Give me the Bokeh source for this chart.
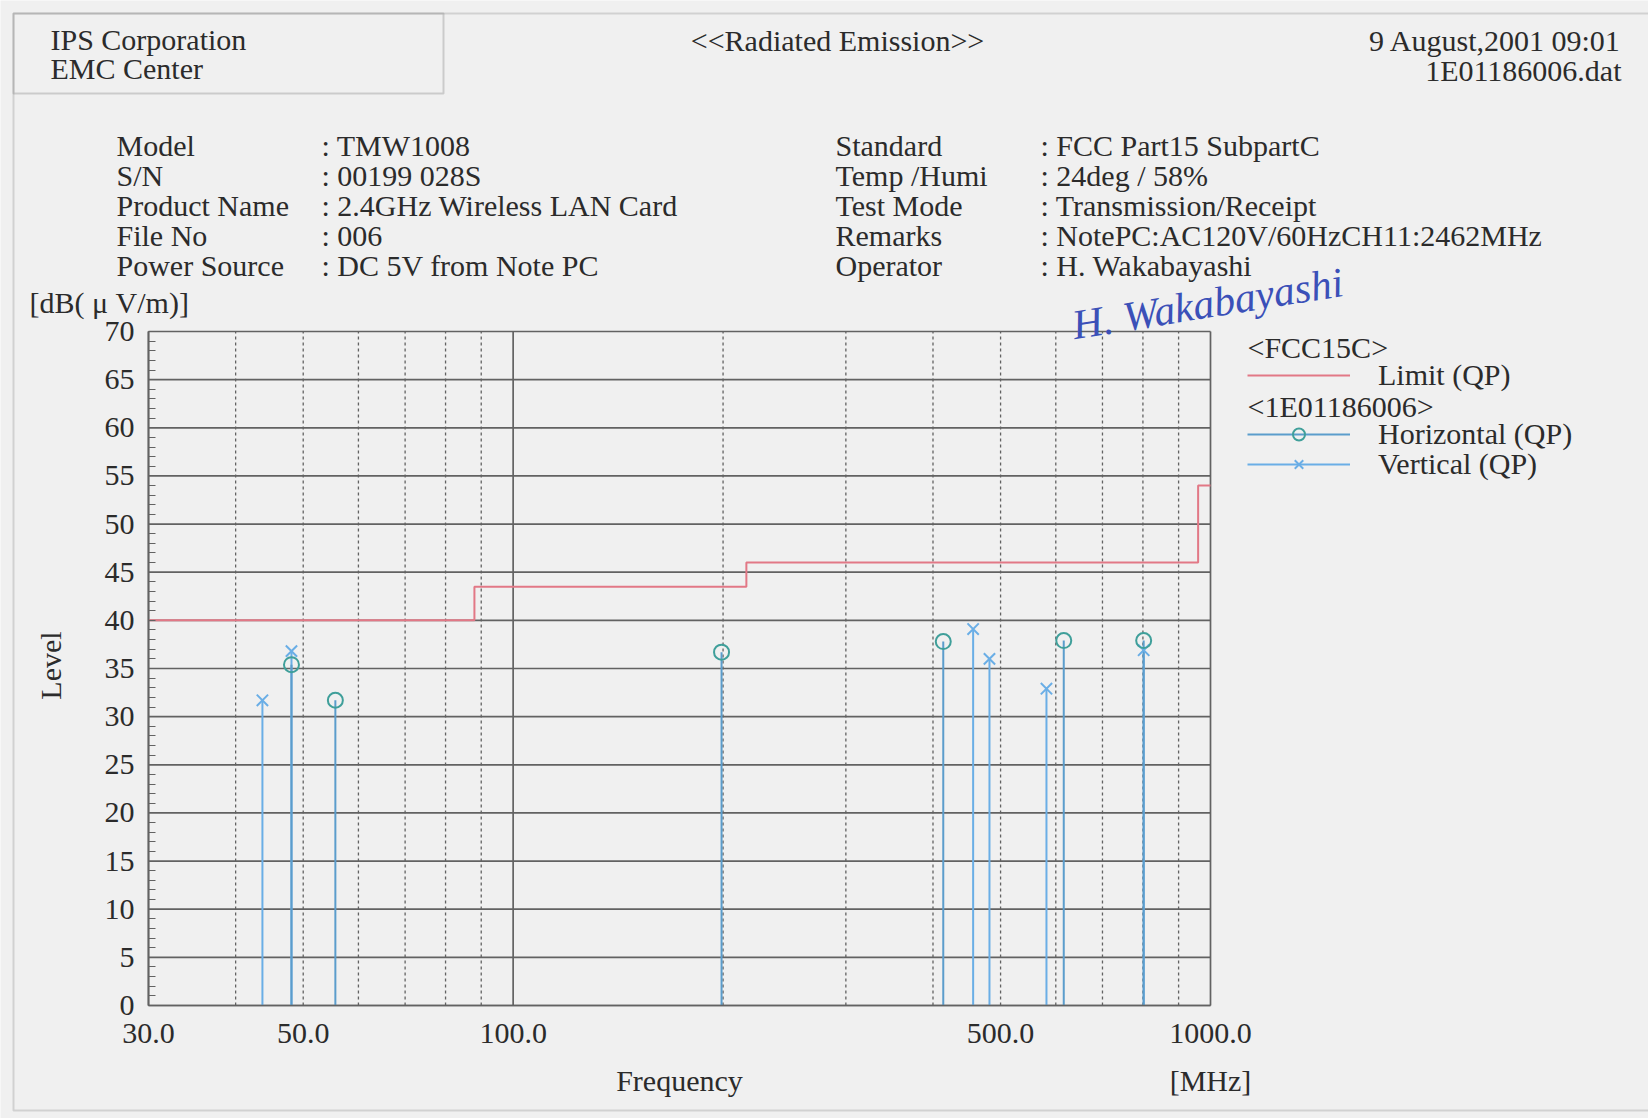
import math
from bokeh.plotting import figure
from bokeh.models import (Label, BoxAnnotation, Legend, LegendItem, FixedTicker,
                          SingleIntervalTicker, Range1d, ColumnDataSource)
from bokeh.embed import file_html
from bokeh.resources import INLINE

# ---------------- data ----------------
limit_freq = [30, 88, 88, 216, 216, 960, 960, 1000]
limit_level = [40, 40, 43.5, 43.5, 46, 46, 54, 54]

horiz_freq = [48.1, 55.6, 199.0, 413.8, 616.0, 802.0]
horiz_level = [35.4, 31.7, 36.7, 37.8, 37.9, 37.9]

vert_freq = [43.7, 48.1, 456.7, 482.0, 581.8, 802.0]
vert_level = [31.7, 36.8, 39.1, 36.0, 32.9, 36.9]

x_min, x_max = 30, 1000
y_min, y_max = 0, 70
x_tick_values = [30, 50, 100, 500, 1000]
x_tick_labels = ["30.0", "50.0", "100.0", "500.0", "1000.0"]
x_major_grid = [30, 100, 1000]
x_minor_grid = [40, 50, 60, 70, 80, 90, 200, 300, 400, 500, 600, 700, 800, 900]
y_grid = list(range(0, 75, 5))

info_left_keys = ["Model", "S/N", "Product Name", "File No", "Power Source"]
info_left_vals = [": TMW1008", ": 00199 028S", ": 2.4GHz Wireless LAN Card", ": 006",
                  ": DC 5V from Note PC"]
info_right_keys = ["Standard", "Temp /Humi", "Test Mode", "Remarks", "Operator"]
info_right_vals = [": FCC Part15 SubpartC", ": 24deg / 58%", ": Transmission/Receipt",
                   ": NotePC:AC120V/60HzCH11:2462MHz", ": H. Wakabayashi"]

# ---------------- layout constants (page pixels) ----------------
W, H = 1648, 1118
CL, CT, CR, CB = 148, 331, 1210, 1005   # chart box edges on the page
FONT = "Liberation Serif"
FS = "30px"
TXT = "#2b2b2b"
BG = "#f0f0f0"
GRID = "#626262"

# ranges chosen so that the chart box (30..1000 MHz, 0..70 dB) lands on CL..CR, CB..CT
kx = (CR - CL) / math.log10(x_max / x_min)
ky = (CB - CT) / (y_max - y_min)
x_range = Range1d(x_min / 10 ** (CL / kx), x_max * 10 ** ((W - CR) / kx))
y_range = Range1d(y_min - (H - CB) / ky, y_max + CT / ky)

p = figure(width=W, height=H, x_axis_type="log", x_range=x_range, y_range=y_range,
           output_backend="svg", toolbar_location=None,
           min_border_left=0, min_border_right=0, min_border_top=0, min_border_bottom=0)
p.background_fill_color = BG
p.border_fill_color = BG
p.outline_line_color = None
p.xgrid.visible = False
p.ygrid.visible = False

# grid lines of the chart box
p.segment(x0=x_minor_grid, y0=[y_min] * len(x_minor_grid), x1=x_minor_grid,
          y1=[y_max] * len(x_minor_grid), line_color=GRID, line_width=1.3, line_dash="3 3")
p.segment(x0=[x_min] * len(y_grid), y0=y_grid, x1=[x_max] * len(y_grid), y1=y_grid,
          line_color=GRID, line_width=1.7)
p.segment(x0=x_major_grid, y0=[y_min] * len(x_major_grid), x1=x_major_grid,
          y1=[y_max] * len(x_major_grid), line_color=GRID, line_width=1.7)

# axes fixed on the chart box
xa = p.xaxis[0]
xa.fixed_location = y_min
xa.bounds = (x_min, x_max)
xa.ticker = FixedTicker(ticks=x_tick_values, minor_ticks=[])
xa.major_label_overrides = {v: l for v, l in zip(x_tick_values, x_tick_labels)}
xa.major_tick_in = 0
xa.major_tick_out = 0
xa.minor_tick_in = 0
xa.minor_tick_out = 0
xa.major_label_standoff = 18
xa.axis_line_color = GRID
xa.axis_line_width = 1.7
xa.major_label_text_font = FONT
xa.major_label_text_font_size = FS
xa.major_label_text_color = TXT

ya = p.yaxis[0]
ya.fixed_location = x_min
ya.bounds = (y_min, y_max)
ya.ticker = SingleIntervalTicker(interval=5, num_minor_ticks=5)
ya.major_tick_in = 0
ya.major_tick_out = 0
ya.minor_tick_in = 7
ya.minor_tick_out = 0
ya.minor_tick_line_color = GRID
ya.minor_tick_line_width = 1.2
ya.major_label_standoff = 14
ya.axis_line_color = GRID
ya.axis_line_width = 1.7
ya.major_label_text_font = FONT
ya.major_label_text_font_size = FS
ya.major_label_text_color = TXT

# data glyphs
H_STEM, H_MARK = "#5b9dcc", "#3f9f9a"
V_COL = "#6aaee6"
hsrc = ColumnDataSource(dict(freq=horiz_freq, level=horiz_level, base=[y_min] * len(horiz_freq)))
vsrc = ColumnDataSource(dict(freq=vert_freq, level=vert_level, base=[y_min] * len(vert_freq)))

limit_r = p.line(limit_freq, limit_level, line_color="#e27886", line_width=2)
v_stem = p.segment(x0="freq", y0="base", x1="freq", y1="level", source=vsrc,
                   line_color=V_COL, line_width=2)
h_stem = p.segment(x0="freq", y0="base", x1="freq", y1="level", source=hsrc,
                   line_color=H_STEM, line_width=2)
v_mark = p.scatter(x="freq", y="level", source=vsrc, marker="x", size=16,
                   line_color=V_COL, line_width=2)
h_mark = p.scatter(x="freq", y="level", source=hsrc, marker="circle", size=15,
                   fill_color=None, line_color=H_MARK, line_width=2)

# legend rows (one single-item legend per row, placed by its row centre)
LEG_X = 1247
HALF_ROW = 15
def legend_row(label, renderers, center_y):
    lg = Legend(items=[LegendItem(label=label, renderers=renderers)],
                location=(LEG_X, H - (center_y + HALF_ROW)),
                glyph_width=103, glyph_height=30, label_standoff=28, spacing=0,
                padding=0, margin=0,
                background_fill_alpha=0, border_line_alpha=0,
                label_text_font=FONT, label_text_font_size=FS, label_text_color=TXT)
    p.add_layout(lg)

legend_row("Limit (QP)", [limit_r], 377)
legend_row("Horizontal (QP)", [h_stem, h_mark], 436)
legend_row("Vertical (QP)", [v_stem, v_mark], 466)

# text helper: page-pixel positions (top-left origin) -> screen units (bottom-left origin)
def add_text(X, Y, txt, size=FS, align="left", angle=0.0, color=TXT, style="normal"):
    p.add_layout(Label(x=X, y=H - Y, x_units="screen", y_units="screen", text=txt,
                       text_font=FONT, text_font_size=size, text_align=align,
                       text_baseline="middle", angle=angle, text_color=color,
                       text_font_style=style))

def add_box(l, t, r, b, color="#777777"):
    p.add_layout(BoxAnnotation(left=l, right=r, top=H - t, bottom=H - b,
                               left_units="screen", right_units="screen",
                               top_units="screen", bottom_units="screen",
                               fill_alpha=0, line_color=color, line_width=2))

# legend group titles
add_text(LEG_X, 347, "<FCC15C>")
add_text(LEG_X, 406, "<1E01186006>")

# page frame and header box
add_box(13, 13, 1720, 1110, color="#8a8a8a")
add_box(13, 13, 443, 93)

add_text(50, 39, "IPS Corporation")
add_text(50, 68, "EMC Center")
add_text(837, 40, "<<Radiated Emission>>", align="center")
add_text(1621, 40, "9 August,2001 09:01", align="right")
add_text(1621, 70, "1E01186006.dat", align="right")

rows_y = [145, 175, 205, 235, 265]
for yy, k, v in zip(rows_y, info_left_keys, info_left_vals):
    add_text(116, yy, k)
    add_text(321, yy, v)
for yy, k, v in zip(rows_y, info_right_keys, info_right_vals):
    add_text(835, yy, k)
    add_text(1040, yy, v)

add_text(29, 302, "[dB( \u03bc V/m)]")
add_text(50, 665, "Level", align="center", angle=math.pi / 2)
add_text(679, 1080, "Frequency", align="center")
add_text(1210, 1080, "[MHz]", align="center")

# signature
add_text(1072, 325, "H. Wakabayashi", size="42px", angle=0.16, color="#3b50b8", style="italic")

open("out.html", "w").write(file_html(p, INLINE))
